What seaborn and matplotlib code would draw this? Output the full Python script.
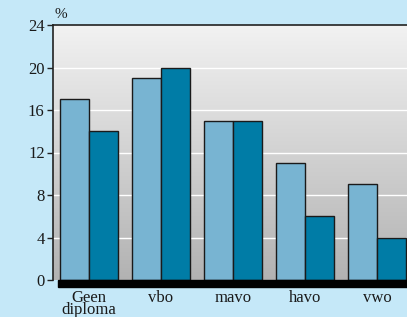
import numpy as np
import pandas as pd
import matplotlib
matplotlib.use('Agg')
import matplotlib.pyplot as plt
import seaborn as sns
from matplotlib.patches import Rectangle

categories = ['Geen\ndiploma', 'vbo', 'mavo', 'havo', 'vwo']
series_names = ['reeks 1', 'reeks 2']
values_1 = [17, 19, 15, 11, 9]
values_2 = [14, 20, 15, 6, 4]
yticks = [0, 4, 8, 12, 16, 20, 24]

df = pd.DataFrame({
    'cat': categories * 2,
    'serie': [series_names[0]] * 5 + [series_names[1]] * 5,
    'pct': values_1 + values_2,
})

sns.set_style('white')
plt.rcParams['font.family'] = ['Liberation Serif', 'DejaVu Serif']

bg = '#c5e8f8'
fig = plt.figure(figsize=(4.07, 3.17), dpi=100, facecolor=bg)
ax = fig.add_axes([53 / 407, 37 / 317, 360 / 407, 255 / 317])

# grijze achtergrond met verloop
grad = np.linspace(0, 1, 256).reshape(-1, 1)
cmap = matplotlib.colors.LinearSegmentedColormap.from_list('g', ['#f2f2f2', '#b2b2b2'])
ax.imshow(grad, extent=[0, 1, 0, 1], transform=ax.transAxes, cmap=cmap,
          aspect='auto', zorder=0)

sns.barplot(data=df, x='cat', y='pct', hue='serie', order=categories,
            palette=['#78b4d2', '#007ca6'], saturation=1, width=0.8,
            edgecolor='#1a1a1a', linewidth=1.0, legend=False, ax=ax, zorder=3)

for t in yticks[1:-1]:
    ax.axhline(t, color='white', lw=1.0, zorder=1)

ax.set_xlim(-0.5, 4.5)
ax.set_ylim(0, 24)
ax.set_yticks(yticks)
ax.set_xlabel('')
ax.set_ylabel('')
ax.tick_params(axis='y', length=4, width=1, color='#222222', labelsize=12, pad=2,
               labelcolor='#1a1a1a', direction='out', left=True)
ax.tick_params(axis='x', length=0, labelsize=12, pad=7, labelcolor='#1a1a1a')
for lbl in ax.get_xticklabels():
    lbl.set_linespacing(0.72)
for s in ['right', 'bottom']:
    ax.spines[s].set_visible(False)
for s in ['left', 'top']:
    ax.spines[s].set_color('#222222')
    ax.spines[s].set_linewidth(1.2)

# zwarte balk onder de grafiek
ax.add_patch(Rectangle((5 / 360, -0.027), 1.2, 0.027, transform=ax.transAxes,
                       color='black', clip_on=False, zorder=5))

ax.text(0.005, 1.015, '%', transform=ax.transAxes, fontsize=11, ha='left', va='bottom',
        color='#1a1a1a')

fig.savefig('out.png', dpi=100, facecolor=bg)
